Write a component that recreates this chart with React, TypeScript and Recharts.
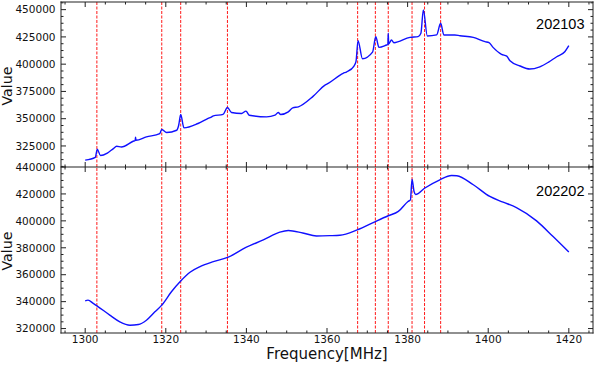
import React from 'react';
import { LineChart, Line, XAxis, YAxis, ReferenceLine } from 'recharts';

// spectrum 202103 (top panel)
const freqTop = [
  1300, 1302.5, 1303, 1303.8, 1305.5, 1307, 1307.8, 1309, 1311.9, 1312.4, 1312.5, 1312.6,
  1315.2, 1318.5, 1319, 1320.2, 1322.7, 1323.2, 1323.7, 1324.5, 1328, 1330.5, 1331.4, 1331.8,
  1334.2, 1335.3, 1336.3, 1338.8, 1339.9, 1340.7, 1345, 1347.1, 1347.9, 1348.5, 1350.4, 1351.5,
  1352.9, 1356.6, 1359.5, 1360.3, 1364, 1364.9, 1366.7, 1367.2, 1367.7, 1368.8, 1371.3, 1372.1,
  1372.9, 1374.8, 1375.1, 1375.2, 1375.3, 1376, 1376.6, 1380.6, 1382.6, 1383.3, 1383.9, 1384.9,
  1387.2, 1388.2, 1389, 1391.7, 1393, 1396.3, 1399.2, 1400.2, 1401.2, 1403.3, 1404.6, 1405.4,
  1407.9, 1410.3, 1412.8, 1414.9, 1417, 1419, 1420,
];
const valueTop = [
  312000, 314500, 322000, 316200, 318500, 322600, 324700, 324100, 329300, 330000, 333000, 330200,
  333300, 336400, 340100, 337300, 339400, 344000, 353900, 341600, 345600, 350200, 351700, 352600,
  353900, 360300, 355700, 354800, 356900, 353200, 351700, 353200, 355700, 353900, 356300, 359900,
  360900, 370700, 380800, 382400, 391600, 393000, 398300, 402500, 421500, 405000, 411000, 425200,
  415400, 417600, 418000, 428300, 418500, 422200, 419700, 424600, 425200, 428300, 449700, 425800,
  426800, 437500, 426800, 426800, 426100, 424600, 420600, 419700, 415400, 409000, 407400, 403100,
  398300, 395500, 397600, 401700, 406800, 411400, 417000,
];

// spectrum 202202 (bottom panel)
const freqBottom = [
  1300, 1300.7, 1302, 1303, 1306.1, 1308.6, 1311.1, 1313.2, 1315.2, 1317.3, 1319, 1321.4,
  1323.7, 1326, 1328.5, 1331.8, 1335.5, 1340, 1344.2, 1348.3, 1350.4, 1354, 1357.4, 1360.7,
  1363.2, 1367.5, 1372, 1375.2, 1377.7, 1380.1, 1380.7, 1381.1, 1381.6, 1382, 1384.3, 1388,
  1390.9, 1392.2, 1396.3, 1400.4, 1403.7, 1407, 1412, 1416.1, 1420,
];
const valueBottom = [
  340600, 341100, 338700, 336700, 330000, 325000, 322500, 323000, 326200, 332400, 337400, 347300,
  355300, 361800, 366000, 369700, 373000, 380400, 385800, 391600, 392800, 391000, 388800, 389000,
  389300, 393300, 399500, 403800, 407000, 414400, 415600, 431000, 421800, 419600, 424400, 430500,
  433700, 433500, 426800, 418100, 413900, 409900, 400000, 388300, 376800,
];

const rfiFreqs = [1302.9, 1319, 1323.7, 1335.3, 1367.6, 1372, 1375.2, 1381.1, 1384.2, 1388.2];
const xMajor = [1300, 1320, 1340, 1360, 1380, 1400, 1420];
const yMajorTop = [325000, 350000, 375000, 400000, 425000, 450000];
const yMajorBottom = [320000, 340000, 360000, 380000, 400000, 420000, 440000];
const panelNames = ['202103', '202202'];

const W = 595;
const FONT = '"DejaVu Sans", sans-serif';
const AXIS = '#222';
const X_DOMAIN = [1294, 1426];
const TOP_DOMAIN = [305700, 457000];
const BOTTOM_DOMAIN = [316700, 440000];

// plot box geometry (frame drawn in overlay)
const L = 61;
const R = 593;
const T1 = 2;
const MID = 167;
const B2 = 333;

const steps = (lo: number, hi: number, step: number) => {
  const out: number[] = [];
  for (let v = lo; v <= hi + 1e-6; v += step) out.push(Math.round(v * 100) / 100);
  return out;
};

const xTicks = steps(1295, 1425, 5);
const yTicksTop = steps(306250, 456250, 6250);
const yTicksBottom = steps(320000, 440000, 5000);

const topData = freqTop.map((f, i) => ({ f, v: valueTop[i] }));
const bottomData = freqBottom.map((f, i) => ({ f, v: valueBottom[i] }));

function TickLabel(props: any) {
  const { x, y, payload, side, majors } = props;
  if (!majors.includes(payload.value)) return <g />;
  if (side === 'left') {
    return (
      <text x={x - 5.5} y={y} dy="0.36em" textAnchor="end" fontSize={10.5} fontFamily={FONT} fill="#111">
        {payload.value}
      </text>
    );
  }
  return (
    <text x={x} y={y + 10.3} textAnchor="middle" fontSize={10.5} fontFamily={FONT} fill="#111">
      {payload.value}
    </text>
  );
}

interface PanelProps {
  data: { f: number; v: number }[];
  height: number;
  yDomain: number[];
  yTicks: number[];
  yMajors: number[];
  margin: { top: number; right: number; bottom: number; left: number };
  showX: boolean;
}

function Panel({ data, height, yDomain, yTicks, yMajors, margin, showX }: PanelProps) {
  return (
    <LineChart width={W} height={height} data={data} margin={margin}>
      <XAxis
        dataKey="f"
        type="number"
        domain={X_DOMAIN}
        allowDataOverflow
        ticks={xTicks}
        interval={0}
        tickSize={0}
        tickMargin={0}
        tickLine={false}
        axisLine={false}
        height={showX ? 32 : 0}
        tick={showX ? (p: any) => <TickLabel {...p} side="bottom" majors={xMajor} /> : false}
      />
      <YAxis
        type="number"
        domain={yDomain}
        allowDataOverflow
        ticks={yTicks}
        interval={0}
        tickSize={0}
        tickMargin={0}
        tickLine={false}
        axisLine={false}
        width={61}
        tick={(p: any) => <TickLabel {...p} side="left" majors={yMajors} />}
      />
      {rfiFreqs.map(f => (
        <ReferenceLine key={f} x={f} stroke="#ff1a1a" strokeWidth={1} strokeDasharray="3 1.5" />
      ))}
      <Line
        type="monotone"
        dataKey="v"
        stroke="#1010ff"
        strokeWidth={1.4}
        dot={false}
        isAnimationActive={false}
      />
    </LineChart>
  );
}

const sx = (f: number) => L + ((f - X_DOMAIN[0]) / (X_DOMAIN[1] - X_DOMAIN[0])) * (R - L);
const sy = (v: number, dom: number[], top: number, bottom: number) =>
  top + ((dom[1] - v) / (dom[1] - dom[0])) * (bottom - top);

function Frame() {
  const marks: React.ReactNode[] = [];
  const edges = [
    { y: T1, dir: 1 },
    { y: MID, dir: -1 },
    { y: MID, dir: 1 },
    { y: B2, dir: -1 },
  ];
  xTicks.forEach(f => {
    const major = xMajor.includes(f);
    const len = major ? 5 : 2.5;
    const px = sx(f);
    edges.forEach((e, i) => {
      marks.push(
        <rect key={`x${f}-${i}`} x={px - 0.5} y={e.dir > 0 ? e.y : e.y - len} width={1} height={len} fill={AXIS} />
      );
    });
  });
  const yPanels = [
    { ticks: yTicksTop, majors: yMajorTop, dom: TOP_DOMAIN, top: T1, bottom: MID },
    { ticks: yTicksBottom, majors: yMajorBottom, dom: BOTTOM_DOMAIN, top: MID, bottom: B2 },
  ];
  yPanels.forEach((p, pi) => {
    p.ticks.forEach(v => {
      const major = p.majors.includes(v);
      const len = major ? 5 : 2.5;
      const py = sy(v, p.dom, p.top, p.bottom);
      marks.push(<rect key={`yl${pi}-${v}`} x={L} y={py - 0.5} width={len} height={1} fill={AXIS} />);
      marks.push(<rect key={`yr${pi}-${v}`} x={R - len} y={py - 0.5} width={len} height={1} fill={AXIS} />);
    });
  });
  return (
    <g>
      <rect x={L - 0.5} y={T1 - 0.5} width={R - L + 1} height={1} fill={AXIS} />
      <rect x={L - 0.5} y={MID - 0.5} width={R - L + 1} height={1} fill={AXIS} />
      <rect x={L - 0.5} y={B2 - 0.5} width={R - L + 1} height={1} fill={AXIS} />
      <rect x={L - 0.5} y={T1 - 0.5} width={1} height={B2 - T1 + 1} fill={AXIS} />
      <rect x={R - 0.5} y={T1 - 0.5} width={1} height={B2 - T1 + 1} fill={AXIS} />
      {marks}
    </g>
  );
}

export default function App() {
  return (
    <div style={{ position: 'absolute', left: 0, top: 0, width: W, height: 365, background: '#fff' }}>
      <div style={{ position: 'absolute', left: 0, top: 0 }}>
        <Panel
          data={topData}
          height={MID}
          yDomain={TOP_DOMAIN}
          yTicks={yTicksTop}
          yMajors={yMajorTop}
          margin={{ top: T1, right: W - R, bottom: 0, left: 0 }}
          showX={false}
        />
      </div>
      <div style={{ position: 'absolute', left: 0, top: 150 }}>
        <Panel
          data={bottomData}
          height={215}
          yDomain={BOTTOM_DOMAIN}
          yTicks={yTicksBottom}
          yMajors={yMajorBottom}
          margin={{ top: MID - 150, right: W - R, bottom: 0, left: 0 }}
          showX
        />
      </div>
      <svg
        width={W}
        height={365}
        style={{ position: 'absolute', left: 0, top: 0, pointerEvents: 'none' }}
      >
        <Frame />
        <text x={11.7} y={86} transform="rotate(-90 11.7 86)" textAnchor="middle" fontSize={14.2} fontFamily={FONT} fill="#111">
          Value
        </text>
        <text x={11.7} y={251} transform="rotate(-90 11.7 251)" textAnchor="middle" fontSize={14.2} fontFamily={FONT} fill="#111">
          Value
        </text>
        <text x={327} y={359} textAnchor="middle" fontSize={15} fontFamily={FONT} fill="#111">
          Frequency[MHz]
        </text>
        <text x={584.5} y={29.3} textAnchor="end" fontSize={14.5} fontFamily='"Liberation Sans", sans-serif' fill="#000">
          {panelNames[0]}
        </text>
        <text x={584.5} y={196} textAnchor="end" fontSize={14.5} fontFamily='"Liberation Sans", sans-serif' fill="#000">
          {panelNames[1]}
        </text>
      </svg>
    </div>
  );
}
